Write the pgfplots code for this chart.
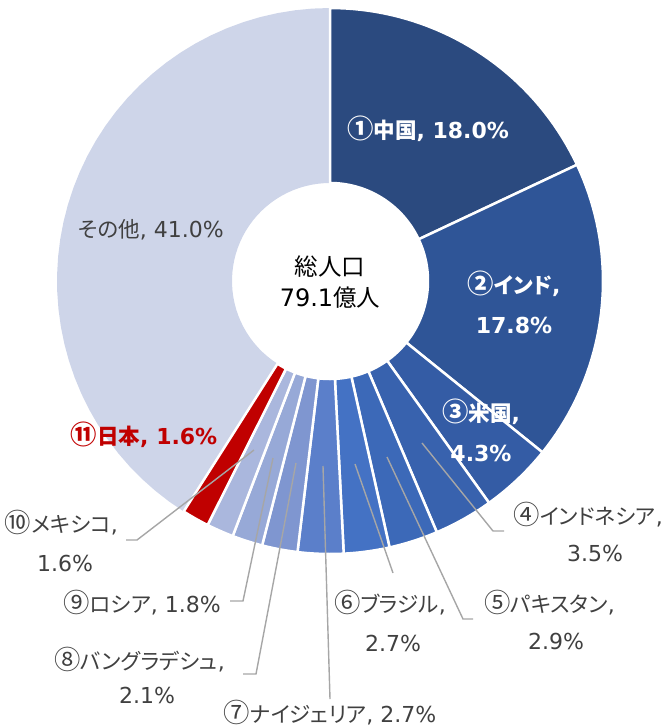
\documentclass[border=0pt]{standalone}
\usepackage{pgfplots}
\pgfplotsset{compat=1.18}
\usepackage{fontspec}
\setmainfont{DejaVu Sans}
\newfontfamily\jp{Noto Sans CJK JP}[Scale=0.98, RawFeature={+palt}]
\newfontfamily\jpc{Noto Sans CJK JP}[Scale=1.2]
\newcommand{\cn}[1]{{\jpc #1}}
\definecolor{c1}{HTML}{2B4A7F}
\definecolor{c2}{HTML}{2F5597}
\definecolor{c3}{HTML}{345CA5}
\definecolor{c4}{HTML}{3862AE}
\definecolor{c5}{HTML}{3C69B8}
\definecolor{c6}{HTML}{4472C4}
\definecolor{c7}{HTML}{5B7FCA}
\definecolor{c8}{HTML}{7F96D0}
\definecolor{c9}{HTML}{97A9D7}
\definecolor{c10}{HTML}{AAB7DD}
\definecolor{c11}{HTML}{C00000}
\definecolor{cother}{HTML}{CED5E9}
\definecolor{lgray}{HTML}{404040}
\definecolor{leader}{HTML}{A6A6A6}
\tikzset{
  lab/.style={font=\fontsize{22}{26}\selectfont, text=lgray, inner sep=0pt, anchor=center},
  wlab/.style={font=\fontsize{22}{26}\selectfont\bfseries, text=white, inner sep=0pt, anchor=center}}
% slice: #1 start (%), #2 share (%), #3 colour, #4 border
\newcommand{\slice}[4]{%
\addplot[fill=#3, draw=#4, line width=2.5pt, line join=miter,
  samples at={0,0.025,...,0.975,1,1.5,1.525,...,2.475,2.5}]
  ({330+ifthenelse(x<1.2,273,98)*sin(ifthenelse(x<1.2,3.6*(#1+#2*x),3.6*(#1+#2*(2.5-x))))},
   {281-ifthenelse(x<1.2,273,98)*cos(ifthenelse(x<1.2,3.6*(#1+#2*x),3.6*(#1+#2*(2.5-x))))}) -- cycle;
}
\begin{document}
\begin{tikzpicture}
\begin{axis}[x=1pt, y=1pt, xmin=0, xmax=667, ymin=0, ymax=728, y dir=reverse,
  scale only axis, hide axis, clip=false, anchor=south west, at={(0,0)}]
% start, share
\slice{59.0}{41.0}{cother}{none}
\slice{0}{18.0}{c1}{white}
\slice{18.0}{17.8}{c2}{white}
\slice{35.8}{4.3}{c3}{white}
\slice{40.1}{3.5}{c4}{white}
\slice{43.6}{2.9}{c5}{white}
\slice{46.5}{2.7}{c6}{white}
\slice{49.2}{2.7}{c7}{white}
\slice{51.9}{2.1}{c8}{white}
\slice{54.0}{1.8}{c9}{white}
\slice{55.8}{1.6}{c10}{white}
\slice{57.4}{1.6}{c11}{white}
% leader lines
\addplot[leader, line width=1.4pt] coordinates {(422,443) (493,531) (504,531)};
\addplot[leader, line width=1.4pt] coordinates {(387,457) (463,619) (473,619)};
\addplot[leader, line width=1.4pt] coordinates {(355,464) (393,573)};
\addplot[leader, line width=1.4pt] coordinates {(323,466) (330,699)};
\addplot[leader, line width=1.4pt] coordinates {(296,463) (256,674) (243,674)};
\addplot[leader, line width=1.4pt] coordinates {(273,458) (243,601) (230,601)};
\addplot[leader, line width=1.4pt] coordinates {(254,450) (137,540) (126,540)};
% labels
\node[wlab] at (axis cs:428,129) {\cn{①}{\jp 中国}, 18.0\%};
\node[wlab] at (axis cs:514,284) {\cn{②}{\jp インド},};
\node[wlab] at (axis cs:514,325) {17.8\%};
\node[wlab] at (axis cs:481,412) {\cn{③}{\jp 米国},};
\node[wlab] at (axis cs:481,453) {4.3\%};
\node[lab, anchor=east] at (axis cs:663,515) {\cn{④}{\jp インドネシア},};
\node[lab] at (axis cs:595,553) {3.5\%};
\node[lab, anchor=east] at (axis cs:615,603) {\cn{⑤}{\jp パキスタン},};
\node[lab] at (axis cs:556,641) {2.9\%};
\node[lab, anchor=east] at (axis cs:446,603) {\cn{⑥}{\jp ブラジル},};
\node[lab] at (axis cs:393,643) {2.7\%};
\node[lab] at (axis cs:330,713) {\cn{⑦}{\jp ナイジェリア}, 2.7\%};
\node[lab, anchor=east] at (axis cs:225,660) {\cn{⑧}{\jp バングラデシュ},};
\node[lab] at (axis cs:147,695) {2.1\%};
\node[lab, anchor=east] at (axis cs:221,603) {\cn{⑨}{\jp ロシア}, 1.8\%};
\node[lab, anchor=east] at (axis cs:118,523) {\cn{⑩}{\jp メキシコ},};
\node[lab] at (axis cs:65,563) {1.6\%};
\node[font=\fontsize{22}{26}\selectfont\bfseries, text=c11, inner sep=0pt] at (axis cs:144,435) {\cn{⑪}{\jp 日本}, 1.6\%};
\node[lab] at (axis cs:151,230) {{\jp その他}, 41.0\%};
\node[font=\fontsize{24}{28}\selectfont, text=black, inner sep=0pt] at (axis cs:330,267) {\jp 総人口};
\node[font=\fontsize{24}{28}\selectfont, text=black, inner sep=0pt] at (axis cs:330,298) {79.1{\jp 億人}};
\end{axis}
\pgfresetboundingbox
\path[use as bounding box] (0,0) rectangle (667pt,728pt);
\end{tikzpicture}
\end{document}
